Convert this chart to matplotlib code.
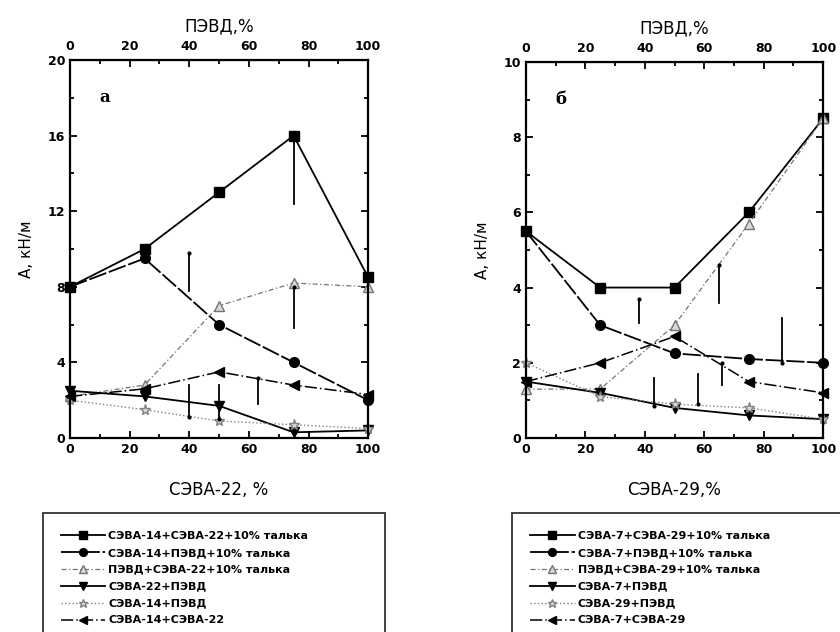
import numpy as np
import matplotlib.pyplot as plt

x = [0, 25, 50, 75, 100]

# panel a (СЭВА-22)
a_sq = [8, 10, 13, 16, 8.5]
a_ci = [8, 9.5, 6, 4, 2]
a_tu = [2.2, 2.8, 7, 8.2, 8]
a_td = [2.5, 2.2, 1.7, 0.3, 0.4]
a_st = [2.0, 1.5, 0.9, 0.7, 0.5]
a_tl = [2.2, 2.6, 3.5, 2.8, 2.3]
a_labels = ['СЭВА-14+СЭВА-22+10% талька', 'СЭВА-14+ПЭВД+10% талька',
            'ПЭВД+СЭВА-22+10% талька', 'СЭВА-22+ПЭВД', 'СЭВА-14+ПЭВД',
            'СЭВА-14+СЭВА-22']
# vertical marks: x, y_from, y_to
a_marks = [(40, 9.8, 7.8), (75, 16, 12.4), (75, 8.0, 5.8),
           (40, 1.1, 2.8), (50, 1.0, 2.8), (63, 3.2, 1.8)]

# panel б (СЭВА-29)
b_sq = [5.5, 4, 4, 6, 8.5]
b_ci = [5.5, 3, 2.25, 2.1, 2.0]
b_tu = [1.3, 1.3, 3.0, 5.7, 8.5]
b_td = [1.5, 1.2, 0.8, 0.6, 0.5]
b_st = [2.0, 1.1, 0.9, 0.8, 0.5]
b_tl = [1.5, 2.0, 2.7, 1.5, 1.2]
b_labels = ['СЭВА-7+СЭВА-29+10% талька', 'СЭВА-7+ПЭВД+10% талька',
            'ПЭВД+СЭВА-29+10% талька', 'СЭВА-7+ПЭВД', 'СЭВА-29+ПЭВД',
            'СЭВА-7+СЭВА-29']
b_marks = [(38, 3.7, 3.05), (65, 4.6, 3.6), (86, 2.0, 3.2),
           (43, 0.85, 1.6), (58, 0.9, 1.7), (66, 2.0, 1.4)]

plt.rcParams['font.family'] = ['DejaVu Sans']

styles = [
    dict(color='black', ls='-', marker='s', ms=7, mfc='black', lw=1.3),
    dict(color='black', ls=(0, (10, 1.5)), marker='o', ms=7, mfc='black', lw=1.3),
    dict(color='0.45', ls=(0, (4, 2, 1, 2)), marker='^', ms=7, mfc='0.85', lw=0.9),
    dict(color='black', ls='-', marker='v', ms=7, mfc='black', lw=1.3),
    dict(color='0.5', ls=':', marker='*', ms=8, mfc='0.85', lw=1.0),
    dict(color='black', ls=(0, (8, 2, 1, 2)), marker='<', ms=7, mfc='black', lw=1.1),
]

fig = plt.figure(figsize=(8.4, 6.32), dpi=100)


def panel(rect, series, labels, marks, ymax, ymaj, ymin, xlab, letter, leg_rect):
    ax = fig.add_axes(rect)
    for ys, st, lab in zip(series, styles, labels):
        ax.plot(x, ys, label=lab, mec=st['color'], clip_on=False, **st)
    for mx, y0, y1 in marks:
        ax.plot([mx, mx], [y0, y1], color='black', lw=1.3)
        ax.plot([mx], [y0], marker='.', color='black', ms=4)
    ax.set_xlim(0, 100)
    ax.set_ylim(0, ymax)
    xt = np.arange(0, 101, 20)
    yt = np.arange(0, ymax + 0.1, ymaj)
    ax.set_xticks(xt, [str(v) for v in xt], fontweight='bold', fontsize=9)
    ax.set_xticks(np.arange(0, 101, 10), minor=True)
    ax.set_yticks(yt, [str(int(v)) for v in yt], fontweight='bold', fontsize=9)
    ax.set_yticks(np.arange(0, ymax + 0.1, ymin), minor=True)
    ax.tick_params(which='both', direction='in', right=True, top=True,
                   width=1.3)
    ax.tick_params(which='major', length=5)
    ax.tick_params(which='minor', length=3)
    for s in ax.spines.values():
        s.set_linewidth(1.6)
    top = ax.secondary_xaxis('top')
    top.set_xticks(xt, [str(v) for v in xt], fontweight='bold', fontsize=9)
    top.tick_params(direction='in', length=0, pad=5)
    top.set_xlabel('ПЭВД,%', fontsize=12, labelpad=6)
    ax.set_xlabel(xlab, fontsize=12, labelpad=18)
    ax.set_ylabel('A, кН/м', fontsize=11, labelpad=10)
    ax.text(10, ymax * 0.9, letter, fontsize=12, fontweight='bold',
            family='DejaVu Serif', va='center')
    h, l = ax.get_legend_handles_labels()
    leg = fig.legend(h, l, loc='upper left', bbox_to_anchor=leg_rect,
                     mode='expand', frameon=True, fancybox=False,
                     prop={'size': 8, 'weight': 'bold'},
                     edgecolor='black', handlelength=4.0, handletextpad=0.3,
                     labelspacing=0.62, borderpad=1.6, markerscale=0.8,
                     borderaxespad=0)
    leg.get_frame().set_linewidth(1.3)
    return ax


panel([0.0833, 0.307, 0.355, 0.598], [a_sq, a_ci, a_tu, a_td, a_st, a_tl],
      a_labels, a_marks, 20, 4, 2, 'СЭВА-22, %', 'а',
      (0.051, 0.0, 0.407, 0.188))
panel([0.626, 0.307, 0.354, 0.595], [b_sq, b_ci, b_tu, b_td, b_st, b_tl],
      b_labels, b_marks, 10, 2, 1, 'СЭВА-29,%', 'б',
      (0.610, 0.0, 0.40, 0.188))

fig.savefig('out.png', dpi=100)
